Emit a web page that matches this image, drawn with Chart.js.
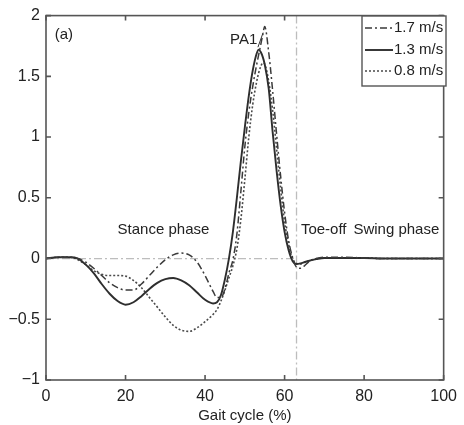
<!DOCTYPE html>
<html>
<head>
<meta charset="utf-8">
<script src="https://cdn.jsdelivr.net/npm/chart.js@4.4.1/dist/chart.umd.min.js"></script>
<style>
  html, body { margin: 0; padding: 0; background: #fff; }
  #wrap { width: 464px; height: 425px; }
</style>
</head>
<body>
<div id="wrap"><canvas id="gaitChart" width="464" height="425"></canvas></div>
<script>
// gait cycle positions (%) shared by all three curves
const gait = [0, 3, 6, 8, 10, 12, 14, 16, 18, 20, 22, 24, 26, 28, 30, 32, 34, 36, 38, 40,
    42, 43, 44, 45, 46, 47, 48, 49, 50, 51, 52, 53, 53.5, 54, 54.5, 55, 56, 57, 58, 59,
    60, 61, 62, 63, 64, 65, 66, 68, 70, 75, 80, 85, 90, 95, 100];

const speed17 = [0, 0.01, 0.01, 0, -0.03, -0.08, -0.14, -0.2, -0.24, -0.26, -0.26, -0.21, -0.14, -0.07, -0.01, 0.03, 0.045, 0.03, -0.03, -0.14,
    -0.27, -0.32, -0.32, -0.25, -0.12, -0.01, 0.2, 0.55, 0.92, 1.2, 1.42, 1.6, 1.68, 1.76, 1.84, 1.91, 1.7, 1.38, 1.02, 0.68,
    0.38, 0.15, 0.01, -0.07, -0.08, -0.06, -0.03, 0, 0.01, 0.01, 0.005, 0, 0, 0, 0];

const speed13 = [0, 0.01, 0.01, 0, -0.05, -0.12, -0.21, -0.29, -0.35, -0.38, -0.36, -0.31, -0.25, -0.2, -0.17, -0.16, -0.18, -0.22, -0.28, -0.34,
    -0.37, -0.36, -0.3, -0.17, 0, 0.22, 0.5, 0.8, 1.08, 1.34, 1.55, 1.69, 1.72, 1.7, 1.66, 1.6, 1.4, 1.04, 0.72, 0.44,
    0.22, 0.07, -0.02, -0.045, -0.04, -0.03, -0.02, -0.005, 0.005, 0.005, 0.005, 0, 0, 0, 0];

const speed08 = [0, 0.01, 0.01, -0.01, -0.05, -0.1, -0.13, -0.14, -0.14, -0.145, -0.18, -0.24, -0.32, -0.4, -0.48, -0.55, -0.59, -0.6, -0.57, -0.52,
    -0.46, -0.42, -0.35, -0.26, -0.16, -0.06, 0.08, 0.32, 0.65, 1.0, 1.27, 1.46, 1.53, 1.58, 1.61, 1.6, 1.46, 1.22, 0.9, 0.58,
    0.3, 0.12, 0, -0.04, -0.045, -0.03, -0.02, 0, 0.005, 0.005, 0.005, 0, 0, 0, 0];

const seriesLabels = ['1.7 m/s', '1.3 m/s', '0.8 m/s'];
const toeOff = 63;

const FONT = '"Liberation Sans", Arial, sans-serif';
const dashDot = [7, 3, 2, 3];
const dotted = [2, 2];

function pts(ys) {
    return gait.map((g, i) => ({ x: g, y: ys[i] }));
}

// box, inward ticks, reference lines, labels and legend (MATLAB look)
const matlabLook = {
    id: 'matlabLook',
    beforeDatasetsDraw(chart) {
        const { ctx, chartArea: a, scales: { x, y } } = chart;
        ctx.save();
        ctx.strokeStyle = '#bdbdbd';
        ctx.lineWidth = 1.3;
        ctx.setLineDash([8, 3, 2, 3]);
        ctx.beginPath();
        ctx.moveTo(x.getPixelForValue(0), y.getPixelForValue(0));
        ctx.lineTo(x.getPixelForValue(toeOff), y.getPixelForValue(0));
        ctx.moveTo(x.getPixelForValue(toeOff), a.top);
        ctx.lineTo(x.getPixelForValue(toeOff), a.bottom);
        ctx.stroke();
        ctx.restore();
    },
    afterDatasetsDraw(chart) {
        const { ctx, chartArea: a, scales: { x, y } } = chart;
        ctx.save();
        ctx.strokeStyle = '#555';
        ctx.lineWidth = 1.6;
        ctx.strokeRect(a.left, a.top, a.right - a.left, a.bottom - a.top);
        const tl = 5;
        ctx.beginPath();
        x.ticks.forEach(t => {
            const px = x.getPixelForValue(t.value);
            ctx.moveTo(px, a.bottom); ctx.lineTo(px, a.bottom - tl);
            ctx.moveTo(px, a.top); ctx.lineTo(px, a.top + tl);
        });
        y.ticks.forEach(t => {
            const py = y.getPixelForValue(t.value);
            ctx.moveTo(a.left, py); ctx.lineTo(a.left + tl, py);
            ctx.moveTo(a.right, py); ctx.lineTo(a.right - tl, py);
        });
        ctx.stroke();

        // text annotations
        ctx.fillStyle = '#222';
        ctx.font = '15px ' + FONT;
        ctx.textBaseline = 'middle';
        ctx.textAlign = 'left';
        ctx.fillText('(a)', x.getPixelForValue(2.2), y.getPixelForValue(1.84));
        ctx.fillText('PA1', x.getPixelForValue(46.3), y.getPixelForValue(1.80));
        ctx.fillText('Stance phase', x.getPixelForValue(18), y.getPixelForValue(0.24));
        ctx.fillText('Toe-off', x.getPixelForValue(64.1), y.getPixelForValue(0.24));
        ctx.fillText('Swing phase', x.getPixelForValue(77.3), y.getPixelForValue(0.24));
        ctx.lineWidth = 1;
        ctx.strokeStyle = '#333';
        ctx.beginPath();
        ctx.moveTo(x.getPixelForValue(53.3), y.getPixelForValue(1.74));
        ctx.lineTo(x.getPixelForValue(54.6), y.getPixelForValue(1.86));
        ctx.stroke();

        // legend box
        const lx = 362, ly = 16, lw = 84, lh = 70;
        ctx.fillStyle = '#fff';
        ctx.fillRect(lx, ly, lw, lh);
        ctx.strokeStyle = '#555';
        ctx.lineWidth = 1.4;
        ctx.strokeRect(lx, ly, lw, lh);
        const rows = [28, 50, 71];
        chart.data.datasets.forEach((ds, i) => {
            ctx.strokeStyle = ds.borderColor;
            ctx.lineWidth = ds.borderWidth;
            ctx.setLineDash(ds.borderDash || []);
            ctx.beginPath();
            ctx.moveTo(lx + 3, rows[i]);
            ctx.lineTo(lx + 31, rows[i]);
            ctx.stroke();
            ctx.setLineDash([]);
            ctx.fillStyle = '#222';
            ctx.fillText(ds.label, lx + 32, rows[i]);
        });
        ctx.restore();
    }
};

new Chart(document.getElementById('gaitChart').getContext('2d'), {
    type: 'line',
    data: {
        datasets: [{
            label: seriesLabels[0],
            data: pts(speed17),
            borderColor: '#3a3a3a',
            borderWidth: 1.5,
            borderDash: dashDot,
            pointRadius: 0,
            cubicInterpolationMode: 'monotone'
        }, {
            label: seriesLabels[1],
            data: pts(speed13),
            borderColor: '#2e2e2e',
            borderWidth: 1.9,
            pointRadius: 0,
            cubicInterpolationMode: 'monotone'
        }, {
            label: seriesLabels[2],
            data: pts(speed08),
            borderColor: '#4a4a4a',
            borderWidth: 1.6,
            borderDash: dotted,
            pointRadius: 0,
            cubicInterpolationMode: 'monotone'
        }]
    },
    options: {
        responsive: false,
        animation: false,
        devicePixelRatio: 1,
        layout: { padding: { top: 13, right: 14, left: 0, bottom: 0 } },
        plugins: {
            legend: { display: false },
            tooltip: { enabled: false }
        },
        scales: {
            x: {
                type: 'linear',
                min: 0,
                max: 100,
                afterFit: s => { s.height = 45; },
                grid: { display: false, drawTicks: false },
                border: { display: false },
                ticks: {
                    stepSize: 20,
                    padding: 7,
                    color: '#222',
                    font: { family: FONT, size: 16 }
                },
                title: {
                    display: true,
                    text: 'Gait cycle (%)',
                    color: '#222',
                    font: { family: FONT, size: 15 },
                    padding: { top: 0, bottom: 0 }
                }
            },
            y: {
                min: -1,
                max: 2,
                afterFit: s => { s.width = 46; },
                grid: { display: false, drawTicks: false },
                border: { display: false },
                ticks: {
                    stepSize: 0.5,
                    padding: 6,
                    color: '#222',
                    font: { family: FONT, size: 16 },
                    callback: v => (v < 0 ? '\u2212' + Math.abs(v) : String(v))
                }
            }
        }
    },
    plugins: [matlabLook]
});
</script>
</body>
</html>
